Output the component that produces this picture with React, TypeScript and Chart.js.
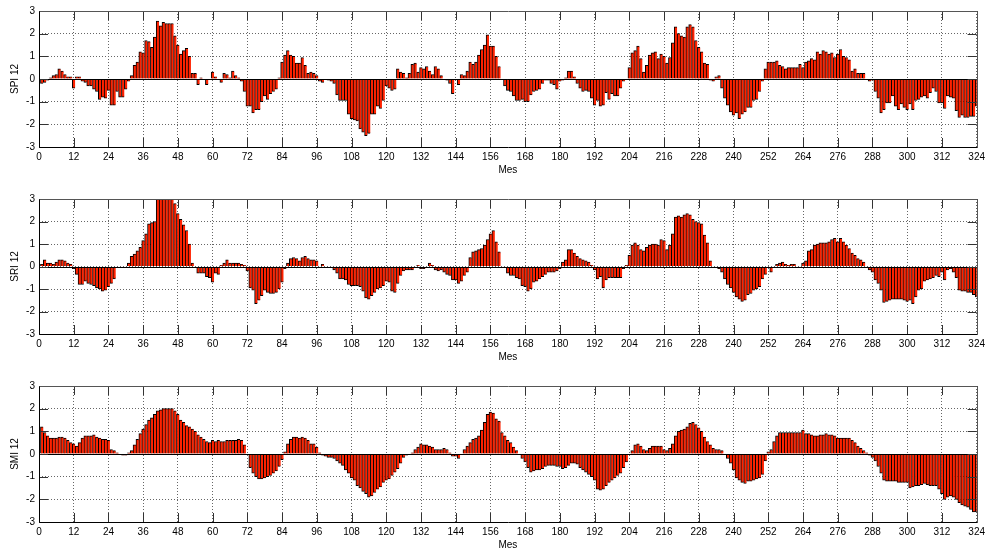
import React, { useEffect, useRef } from "react";
import { Chart, registerables } from "chart.js";

Chart.register(...registerables);

// ---- data ----
const months: number[] = Array.from({ length: 324 }, (_, i) => i + 1);
const xTickValues: number[] = [0, 12, 24, 36, 48, 60, 72, 84, 96, 108, 120, 132, 144, 156, 168, 180, 192, 204, 216, 228, 240, 252, 264, 276, 288, 300, 312, 324];
const yTickValues: number[] = [-3, -2, -1, 0, 1, 2, 3];
const xTitle = "Mes";
const yTitles: string[] = ["SPI 12", "SRI 12", "SMI 12"];

const spi12: number[] = [
  -0.2, -0.15, -0.05, 0.05, 0.15, 0.2, 0.45, 0.35, 0.2, 0.1, 0.1, -0.4,
  0.1, 0.1, -0.1, -0.15, -0.3, -0.3, -0.45, -0.55, -0.9, -0.8, -0.85, -0.5,
  -1.15, -1.15, -0.55, -0.8, -0.8, -0.45, -0.1, 0.15, 0.6, 0.75, 1.2, 1.15,
  1.7, 1.65, 1.4, 1.85, 2.55, 2.35, 2.5, 2.45, 2.45, 2.45, 1.9, 1.5,
  1.1, 1.25, 1.35, 1.0, 0.25, 0.25, -0.25, 0.05, 0.0, -0.25, 0.0, 0.3,
  0.1, 0.0, -0.15, 0.25, 0.2, 0.05, 0.35, 0.15, 0.05, -0.1, -0.55, -1.2,
  -1.2, -1.5, -1.35, -1.35, -1.0, -0.75, -0.9, -0.65, -0.55, -0.45, 0.05, 0.75,
  1.05, 1.25, 1.05, 1.0, 0.7, 0.7, 0.95, 0.6, 0.25, 0.3, 0.25, 0.15,
  -0.1, -0.15, 0.0, -0.05, -0.1, -0.2, -0.7, -0.95, -0.95, -0.95, -1.55, -1.75,
  -1.8, -1.85, -2.2, -2.35, -2.5, -2.4, -1.55, -1.55, -1.2, -1.3, -0.95, -0.3,
  -0.4, -0.5, -0.45, 0.45, 0.3, 0.25, 0.05, 0.25, 0.65, 0.7, 0.3, 0.5,
  0.45, 0.55, 0.35, 0.2, 0.55, 0.45, 0.15, 0.0, -0.05, -0.2, -0.65, 0.0,
  -0.25, 0.2, 0.15, 0.35, 0.75, 0.65, 0.75, 1.05, 1.3, 1.5, 1.95, 1.45,
  1.45, 1.0, 0.55, 0.0, -0.3, -0.5, -0.55, -0.75, -0.95, -0.95, -0.9, -1.0,
  -1.0, -0.7, -0.55, -0.5, -0.45, -0.2, -0.05, -0.05, -0.2, -0.25, -0.45, -0.1,
  -0.05, 0.05, 0.35, 0.35, 0.1, -0.2, -0.4, -0.55, -0.5, -0.55, -0.85, -1.15,
  -0.95, -1.2, -1.15, -0.6, -0.9, -0.65, -0.75, -0.75, -0.4, -0.1, 0.0, 0.5,
  1.15, 1.25, 1.45, 0.9, 0.3, 0.6, 1.05, 1.15, 1.2, 0.9, 1.1, 1.0,
  0.7, 0.95, 1.6, 2.3, 2.0, 1.9, 1.85, 2.3, 2.4, 2.3, 1.7, 1.4,
  1.2, 0.7, 0.65, -0.05, -0.1, 0.1, 0.15, -0.4, -0.85, -1.15, -1.45, -1.6,
  -1.5, -1.75, -1.55, -1.45, -1.25, -1.25, -0.95, -0.9, -0.55, -0.1, 0.45, 0.75,
  0.75, 0.75, 0.8, 0.6, 0.55, 0.45, 0.5, 0.5, 0.5, 0.5, 0.65, 0.5,
  0.75, 0.8, 0.9, 0.85, 1.2, 1.1, 1.25, 1.2, 1.1, 1.15, 0.95, 1.1,
  1.3, 1.0, 0.95, 0.85, 0.35, 0.45, 0.25, 0.25, 0.25, 0.0, -0.1, -0.05,
  -0.55, -0.85, -1.5, -1.35, -1.05, -1.05, -0.75, -1.2, -1.35, -1.1, -1.25, -1.35,
  -1.1, -1.35, -0.95, -0.9, -0.8, -0.75, -0.85, -0.6, -0.4, -0.55, -1.05, -1.05,
  -1.3, -0.75, -0.8, -0.85, -1.4, -1.7, -1.6, -1.7, -1.7, -1.65, -1.65, -1.2,
];

const sri12: number[] = [
  0.1, 0.3, 0.15, 0.15, 0.1, 0.2, 0.3, 0.3, 0.25, 0.15, 0.1, -0.1,
  -0.35, -0.8, -0.8, -0.65, -0.75, -0.8, -0.85, -0.95, -1.0, -1.1, -1.05, -0.9,
  -0.75, -0.55, 0.0, 0.0, 0.0, 0.0, 0.15, 0.45, 0.55, 0.7, 0.85, 1.15,
  1.45, 1.9, 1.95, 2.0, 3.1, 3.2, 3.3, 3.2, 3.1, 3.05, 2.8, 2.35,
  2.1, 1.85, 1.6, 1.0, 0.15, 0.0, -0.3, -0.3, -0.3, -0.45, -0.5, -0.7,
  -0.3, -0.35, 0.05, 0.15, 0.3, 0.15, 0.15, 0.15, 0.15, 0.1, 0.05, -0.2,
  -0.95, -1.05, -1.65, -1.5, -1.3, -1.05, -1.15, -1.2, -1.2, -1.15, -1.0, -0.7,
  -0.1, 0.15, 0.35, 0.4, 0.35, 0.25, 0.4, 0.45, 0.35, 0.3, 0.3, 0.25,
  -0.05, 0.1, 0.0, -0.05, -0.05, -0.15, -0.3, -0.55, -0.55, -0.6, -0.8, -0.85,
  -0.85, -0.85, -0.9, -1.1, -1.4, -1.45, -1.3, -1.15, -1.0, -0.95, -0.85, -0.65,
  -0.7, -1.1, -1.15, -0.75, -0.4, -0.2, -0.15, -0.15, -0.15, -0.05, 0.05, -0.1,
  -0.1, 0.0, 0.15, 0.05, -0.15, -0.2, -0.15, -0.25, -0.35, -0.4, -0.6, -0.6,
  -0.75, -0.65, -0.4, -0.25, 0.4, 0.65, 0.7, 0.75, 0.8, 0.95, 1.2, 1.45,
  1.6, 1.1, 0.65, 0.0, 0.0, -0.3, -0.4, -0.4, -0.5, -0.55, -0.85, -0.9,
  -1.1, -1.0, -0.7, -0.65, -0.55, -0.45, -0.35, -0.25, -0.25, -0.25, -0.2, -0.1,
  0.2, 0.3, 0.75, 0.75, 0.6, 0.45, 0.35, 0.3, 0.25, 0.2, 0.05, -0.15,
  -0.55, -0.45, -0.95, -0.6, -0.5, -0.5, -0.5, -0.5, -0.5, -0.1, 0.05, 0.5,
  0.95, 1.05, 0.95, 0.75, 0.7, 0.85, 0.95, 1.0, 1.0, 0.95, 1.2, 1.15,
  0.75, 0.95, 1.45, 2.2, 2.25, 2.2, 2.3, 2.35, 2.3, 2.1, 2.0, 1.95,
  1.9, 1.4, 1.05, 0.25, 0.0, -0.05, -0.1, -0.25, -0.55, -0.8, -0.95, -1.15,
  -1.35, -1.45, -1.55, -1.5, -1.25, -1.2, -1.05, -1.0, -0.9, -0.55, -0.35, 0.0,
  -0.25, 0.0, 0.1, 0.15, 0.2, 0.1, 0.05, 0.1, 0.1, 0.0, -0.05, 0.15,
  0.25, 0.7, 0.75, 0.95, 1.0, 1.05, 1.05, 1.05, 1.1, 1.2, 1.25, 1.1,
  1.25, 1.1, 0.95, 0.8, 0.6, 0.5, 0.35, 0.3, 0.2, 0.0, -0.15, -0.25,
  -0.6, -0.75, -1.05, -1.6, -1.55, -1.5, -1.45, -1.45, -1.45, -1.45, -1.5, -1.55,
  -1.5, -1.65, -1.35, -1.05, -1.0, -0.65, -0.6, -0.55, -0.5, -0.4, -0.45, -0.25,
  -0.6, -0.15, -0.1, -0.25, -0.5, -1.05, -1.1, -1.1, -1.15, -1.15, -1.25, -1.35,
];

const smi12: number[] = [
  1.2, 0.95, 0.8, 0.7, 0.7, 0.7, 0.75, 0.75, 0.7, 0.6, 0.5, 0.45,
  0.35, 0.5, 0.7, 0.8, 0.8, 0.8, 0.85, 0.75, 0.7, 0.65, 0.65, 0.6,
  0.2, 0.15, 0.05, 0.0, -0.05, -0.05, 0.05, 0.15, 0.4, 0.65, 0.9, 1.1,
  1.3, 1.5, 1.6, 1.75, 1.9, 1.95, 2.0, 2.0, 2.0, 2.0, 1.9, 1.75,
  1.5, 1.4, 1.25, 1.2, 1.1, 1.0, 0.85, 0.75, 0.65, 0.55, 0.5, 0.6,
  0.55, 0.6, 0.55, 0.55, 0.6, 0.6, 0.6, 0.6, 0.65, 0.6, 0.4, 0.0,
  -0.6, -0.85, -1.0, -1.1, -1.1, -1.05, -1.0, -0.95, -0.85, -0.75, -0.55, -0.25,
  0.1, 0.45, 0.65, 0.75, 0.75, 0.7, 0.75, 0.7, 0.6, 0.45, 0.45, 0.3,
  0.05, -0.05, -0.1, -0.15, -0.15, -0.2, -0.3, -0.4, -0.5, -0.7, -0.85, -1.05,
  -1.15, -1.4, -1.5, -1.65, -1.75, -1.9, -1.85, -1.7, -1.55, -1.45, -1.25, -1.15,
  -1.1, -0.95, -0.8, -0.65, -0.4, -0.15, -0.05, 0.0, 0.05, 0.2, 0.3, 0.45,
  0.4, 0.4, 0.35, 0.3, 0.2, 0.2, 0.2, 0.25, 0.2, 0.05, -0.1, -0.1,
  -0.2, 0.0, 0.2, 0.35, 0.5, 0.65, 0.7, 0.8, 1.05, 1.4, 1.75, 1.85,
  1.8, 1.55, 1.45, 0.95, 0.8, 0.6, 0.5, 0.3, 0.15, 0.0, -0.2, -0.35,
  -0.6, -0.8, -0.75, -0.7, -0.7, -0.65, -0.55, -0.5, -0.5, -0.5, -0.55, -0.55,
  -0.65, -0.6, -0.5, -0.4, -0.4, -0.45, -0.6, -0.7, -0.8, -0.9, -1.0, -1.15,
  -1.55, -1.6, -1.55, -1.4, -1.25, -1.15, -1.05, -0.95, -0.85, -0.6, -0.35, 0.0,
  0.15, 0.4, 0.45, 0.35, 0.2, 0.15, 0.25, 0.35, 0.35, 0.35, 0.35, 0.2,
  0.15, 0.25, 0.45, 0.8, 1.0, 1.05, 1.1, 1.2, 1.35, 1.4, 1.3, 1.15,
  1.0, 0.75, 0.55, 0.4, 0.25, 0.2, 0.2, 0.15, 0.0, -0.2, -0.4, -0.7,
  -1.05, -1.15, -1.25, -1.3, -1.2, -1.2, -1.15, -1.1, -1.05, -0.9, -0.3, 0.1,
  0.2, 0.55, 0.8, 0.95, 0.95, 0.95, 0.95, 0.95, 0.95, 0.95, 0.95, 1.05,
  0.9, 0.9, 0.85, 0.8, 0.8, 0.85, 0.85, 0.9, 0.85, 0.85, 0.8, 0.7,
  0.7, 0.7, 0.7, 0.7, 0.6, 0.5, 0.35, 0.25, 0.15, 0.05, -0.05, -0.15,
  -0.3, -0.55, -0.85, -1.15, -1.2, -1.2, -1.2, -1.2, -1.25, -1.25, -1.25, -1.25,
  -1.5, -1.45, -1.4, -1.4, -1.35, -1.3, -1.35, -1.4, -1.4, -1.4, -1.55, -1.75,
  -2.0, -1.9, -1.85, -1.9, -2.0, -2.15, -2.25, -2.3, -2.35, -2.45, -2.55, -2.55,
];

const seriesList: number[][] = [spi12, sri12, smi12];

// ---- styling ----
const FONT = "'Liberation Sans', Arial, Helvetica, sans-serif";
const BAR_COLOR = "#ff2200";
const TICK_LEN = 9;

const matlabAxesPlugin = {
  id: "matlabAxes",
  afterDatasetsDraw(chart: any) {
    const { ctx, chartArea, scales } = chart;
    const { left, right, top, bottom } = chartArea;
    const px = (v: number) => Math.round(v) + 0.5;
    ctx.save();
    ctx.lineWidth = 1;
    // zero baseline
    const y0 = px(scales.y.getPixelForValue(0));
    ctx.strokeStyle = "#000";
    ctx.beginPath();
    ctx.moveTo(left, y0);
    ctx.lineTo(right, y0);
    ctx.stroke();
    // inward tick marks
    ctx.strokeStyle = "#333";
    ctx.beginPath();
    for (const v of xTickValues) {
      const x = px(scales.x.getPixelForValue(v));
      ctx.moveTo(x, bottom);
      ctx.lineTo(x, bottom - TICK_LEN);
      ctx.moveTo(x, top);
      ctx.lineTo(x, top + TICK_LEN);
    }
    for (const v of yTickValues) {
      const y = px(scales.y.getPixelForValue(v));
      ctx.moveTo(left, y);
      ctx.lineTo(left + TICK_LEN, y);
      ctx.moveTo(right, y);
      ctx.lineTo(right - TICK_LEN, y);
    }
    ctx.stroke();
    // box
    const l = px(left), r = px(right), t = px(top), b = px(bottom);
    ctx.strokeStyle = "#555";
    ctx.beginPath();
    ctx.moveTo(l, t);
    ctx.lineTo(r, t);
    ctx.lineTo(r, b);
    ctx.stroke();
    ctx.strokeStyle = "#000";
    ctx.beginPath();
    ctx.moveTo(l, t);
    ctx.lineTo(l, b);
    ctx.lineTo(r, b);
    ctx.stroke();
    ctx.restore();
  },
};

type PanelProps = {
  values: number[];
  yTitle: string;
  top: number;
  height: number;
  axisHeight: number;
  titlePadBottom: number;
};

function Panel({ values, yTitle, top, height, axisHeight, titlePadBottom }: PanelProps) {
  const ref = useRef<HTMLCanvasElement | null>(null);

  useEffect(() => {
    if (!ref.current) return;
    const chart = new Chart(ref.current, {
      type: "bar",
      data: {
        datasets: [
          {
            data: months.map((m, i) => ({ x: m, y: values[i] })),
            backgroundColor: BAR_COLOR,
            borderColor: "#000",
            borderWidth: { top: 1, bottom: 1, left: 1, right: 0 },
            barPercentage: 1,
            categoryPercentage: 1,
            clip: 0,
          } as any,
        ],
      },
      options: {
        animation: false,
        responsive: false,
        maintainAspectRatio: false,
        events: [],
        layout: { padding: { top: 11, right: 8, left: 0, bottom: 0 } },
        plugins: { legend: { display: false }, tooltip: { enabled: false } },
        scales: {
          x: {
            type: "linear",
            min: 0,
            max: 324,
            offset: false,
            grid: { color: "#666", lineWidth: 1, drawTicks: false, offset: false },
            border: { display: false, dash: [1, 2] },
            ticks: {
              stepSize: 12,
              autoSkip: false,
              maxRotation: 0,
              minRotation: 0,
              padding: 4,
              color: "#000",
              font: { family: FONT, size: 10 },
            },
            title: {
              display: true,
              text: xTitle,
              color: "#000",
              font: { family: FONT, size: 10 },
              padding: { top: 0, bottom: titlePadBottom },
            },
            afterFit: (scale: any) => {
              scale.height = axisHeight;
            },
          },
          y: {
            type: "linear",
            min: -3,
            max: 3,
            grid: { color: "#666", lineWidth: 1, drawTicks: false },
            border: { display: false, dash: [1, 2] },
            ticks: {
              stepSize: 1,
              padding: 4,
              color: "#000",
              font: { family: FONT, size: 10 },
            },
            title: {
              display: true,
              text: yTitle,
              color: "#000",
              font: { family: FONT, size: 10 },
              padding: { top: 9, bottom: 0 },
            },
            afterFit: (scale: any) => {
              scale.width = 39;
            },
          },
        },
      } as any,
      plugins: [matlabAxesPlugin],
    });
    return () => chart.destroy();
  }, [values, yTitle, axisHeight, titlePadBottom]);

  return (
    <canvas
      ref={ref}
      width={989}
      height={height}
      style={{ position: "absolute", left: 0, top, width: 989, height, display: "block" }}
    />
  );
}

export default function App() {
  return (
    <div
      style={{
        position: "absolute",
        left: 0,
        top: 0,
        width: 989,
        height: 555,
        overflow: "hidden",
        background: "#fff",
      }}
    >
      <Panel values={seriesList[0]} yTitle={yTitles[0]} top={0} height={185} axisHeight={38} titlePadBottom={9} />
      <Panel values={seriesList[1]} yTitle={yTitles[1]} top={188} height={184} axisHeight={38} titlePadBottom={9} />
      <Panel values={seriesList[2]} yTitle={yTitles[2]} top={375} height={180} axisHeight={33} titlePadBottom={4} />
    </div>
  );
}
